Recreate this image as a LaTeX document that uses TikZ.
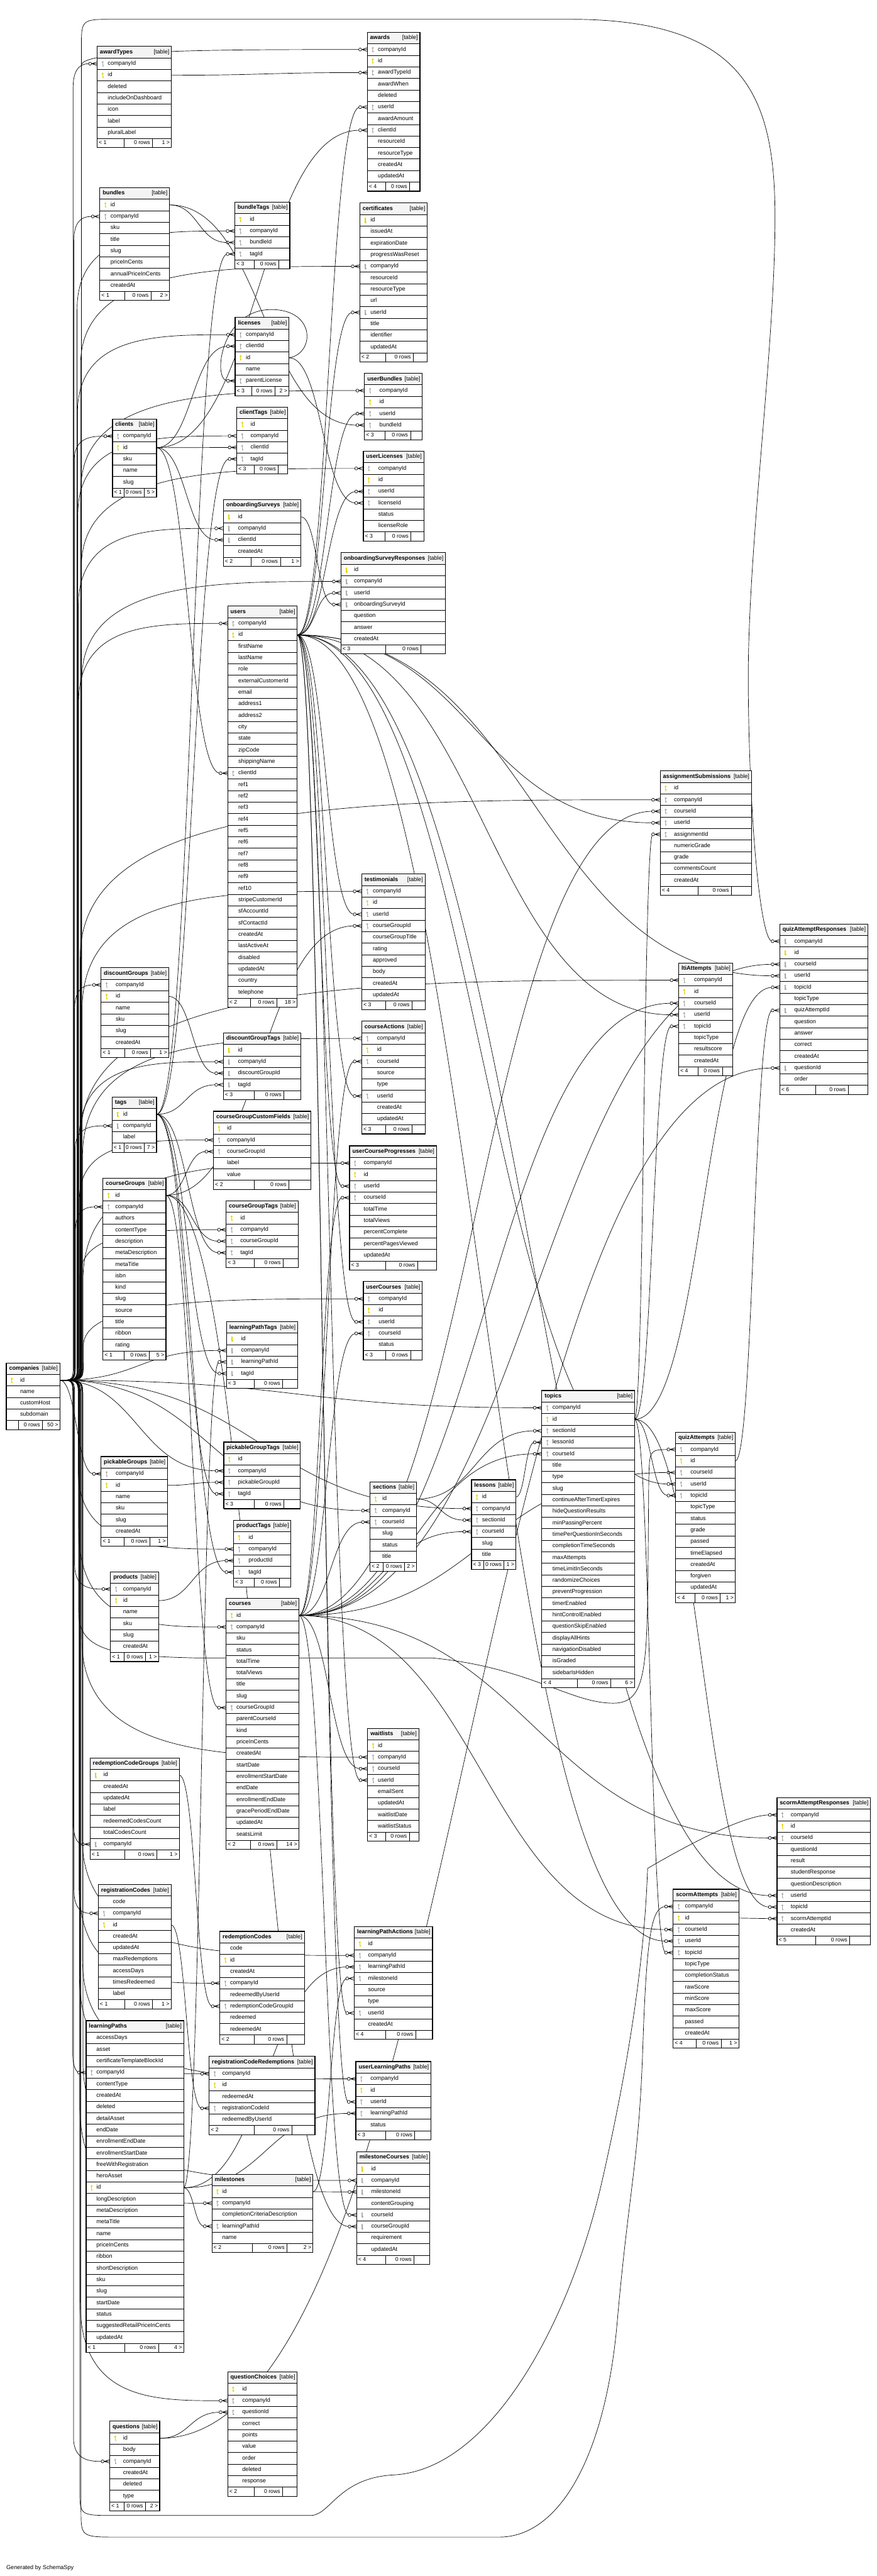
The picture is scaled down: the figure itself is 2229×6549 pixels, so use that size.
\documentclass[tikz,border=0pt]{standalone}
\usepackage{fontspec}
\setmainfont{Liberation Sans}
\usetikzlibrary{calc}
\pgfdeclarelayer{bg}
\pgfsetlayers{bg,main}
\definecolor{pkc}{RGB}{230,212,0}
\definecolor{fkc}{RGB}{172,172,172}
\definecolor{hdc}{RGB}{244,244,244}
\tikzset{
  cell/.style={draw=black,line width=1.2pt,fill=white},
  hdr/.style={draw=black,line width=1.2pt,fill=hdc},
  outer/.style={draw=black,line width=1.7pt},
  txt/.style={anchor=west,inner sep=0pt,font=\fontsize{14.6}{17}\selectfont,text height=10.5pt,text depth=3pt},
  ttl/.style={txt,font=\bfseries\fontsize{14.6}{17}\selectfont},
  ftx/.style={inner sep=0pt,font=\fontsize{14}{16}\selectfont,text height=10pt,text depth=2.5pt},
  rel/.style={draw=black,line width=1.1pt},
}
\newcommand\keyicon[3]{%
  \fill[#3] (#1,#2+4) circle (2.7);
  \fill[#3] (#1-0.9,#2+2) rectangle (#1+0.9,#2-7);
  \fill[#3] (#1+0.9,#2-3.4) rectangle (#1+2.7,#2-4.8);
  \fill[#3] (#1+0.9,#2-5.6) rectangle (#1+2.2,#2-7);}
\newcommand\tbl[6]{%
  \def\TBn{#1}\def\TBx{#2}\def\TBy{#3}\def\TBw{#4}%
  \draw[hdr] (#2,-#3) rectangle ++(#4,-29.3);
  \node[ttl] (#1-hd) at (#2+7,-#3-14.65) {#1};
  \node[txt,anchor=east] (#1-tg) at (#2+#4-5,-#3-14.65) {[table]};
  \foreach \kk/\rn [count=\ii] in {#6} {%
    \pgfmathsetmacro\yy{#3+29.3*\ii}%
    \draw[cell] (#2,-\yy) rectangle ++(#4,-29.3);
    \node[txt] (#1-\rn-t) at (#2+#5,-\yy-14.65) {\rn};
    \coordinate (#1-\rn-w) at (#2,-\yy-14.65);
    \coordinate (#1-\rn-e) at (#2+#4,-\yy-14.65);
    \if\kk p\keyicon{#2+14}{-\yy-14.65}{pkc}\fi
    \if\kk f\keyicon{#2+14}{-\yy-14.65}{fkc}\fi
    \xdef\TBrows{\ii}%
  }}
\newcommand\tfoot[4]{%
  \pgfmathsetmacro\yy{\TBy+29.3*(\TBrows+1)}%
  \draw[cell] (\TBx,-\yy) rectangle ++(\TBw,-23);
  \draw[line width=1.2pt] (#1,-\yy) -- ++(0,-23) (#2,-\yy) -- ++(0,-23);
  \node[ftx,anchor=west] (\TBn-fl) at (\TBx+4,-\yy-11.5) {#3};
  \node[ftx,anchor=east] (\TBn-fm) at (#2-6,-\yy-11.5) {0 rows};
  \node[ftx,anchor=east] (\TBn-fr) at (\TBx+\TBw-4,-\yy-11.5) {#4};
  \draw[outer] (\TBx,-\TBy) rectangle (\TBx+\TBw,-\yy-23);}
\newcommand\fkm[1]{%
  \draw[rel] ([xshift=-14pt]#1) -- ([yshift=4.5pt]#1)
             ([xshift=-14pt]#1) -- (#1)
             ([xshift=-14pt]#1) -- ([yshift=-4.5pt]#1);
  \draw[rel,fill=white] ([xshift=-18pt]#1) circle (3.8);}
\newcommand\rl[2]{%
  \draw[rel] let \p1=(#1), \p2=(#2) in
    (\p1) .. controls ({(\x1+\x2-19)/2},\y1) and ({(\x1+\x2-19)/2},\y2) .. (\x2-19,\y2);
  \fkm{#2}}
\newcommand\cbus[3]{%
  \draw[rel] let \p1=(companies-id-e), \p2=(#1-companyId-w), \n1={sign(\y2-\y1)} in
    (\p1) .. controls (#2,\y1) .. (#2,{\y1+(\n1)*45}) -- (#2,{\y2-(\n1)*#3})
    .. controls (#2,\y2) and ({(#2+\x2)/2},\y2) .. (\x2-19,\y2);
  \fkm{#1-companyId-w}}
\begin{document}
\begin{tikzpicture}[x=1pt,y=1pt]
\useasboundingbox (0,0) rectangle (2229,-6549);
\begin{pgfonlayer}{bg}
\fill[white] (0,0) rectangle (2229,-6549);
\end{pgfonlayer}

\tbl{awardTypes}{247}{118}{189}{27}{f/companyId,p/id,n/deleted,n/includeOnDashboard,n/icon,n/label,n/pluralLabel}
\tfoot{315}{388}{< 1}{1 >}
\tbl{awards}{934}{82}{134}{27}{f/companyId,p/id,f/awardTypeId,n/awardWhen,n/deleted,f/userId,n/awardAmount,f/clientId,n/resourceId,n/resourceType,n/createdAt,n/updatedAt}
\tfoot{980}{1042}{< 4}{}
\tbl{bundles}{254}{477}{177}{27}{p/id,f/companyId,n/sku,n/title,n/slug,n/priceInCents,n/annualPriceInCents,n/createdAt}
\tfoot{317}{384}{< 1}{2 >}
\tbl{bundleTags}{597}{514}{140}{38}{p/id,f/companyId,f/bundleId,f/tagId}
\tfoot{647}{709}{< 3}{}
\tbl{certificates}{915}{516}{172}{27}{p/id,n/issuedAt,n/expirationDate,n/progressWasReset,f/companyId,n/resourceId,n/resourceType,n/url,f/userId,n/title,n/identifier,n/updatedAt}
\tfoot{981}{1051}{< 2}{}
\tbl{licenses}{598}{807}{137}{27}{f/companyId,f/clientId,p/id,n/name,f/parentLicense}
\tfoot{640}{699}{< 3}{2 >}
\tbl{userBundles}{927}{949}{147}{38}{f/companyId,p/id,f/userId,f/bundleId}
\tfoot{979}{1044}{< 3}{}
\tbl{clientTags}{602}{1035}{130}{35}{p/id,f/companyId,f/clientId,f/tagId}
\tfoot{647}{708}{< 3}{}
\tbl{clients}{286}{1065}{112}{27}{f/companyId,p/id,n/sku,n/name,n/slug}
\tfoot{315}{367}{< 1}{5 >}
\tbl{userLicenses}{924}{1147}{154}{38}{f/companyId,p/id,f/userId,f/licenseId,n/status,n/licenseRole}
\tfoot{979}{1045}{< 3}{}
\tbl{onboardingSurveys}{568}{1270}{197}{37}{p/id,f/companyId,f/clientId,n/createdAt}
\tfoot{639}{713}{< 2}{1 >}
\tbl{onboardingSurveyResponses}{867}{1405}{266}{33}{p/id,f/companyId,f/userId,f/onboardingSurveyId,n/question,n/answer,n/createdAt}
\tfoot{980}{1071}{< 3}{}
\tbl{users}{579}{1541}{177}{27}{f/companyId,p/id,n/firstName,n/lastName,n/role,n/externalCustomerId,n/email,n/address1,n/address2,n/city,n/state,n/zipCode,n/shippingName,f/clientId,n/ref1,n/ref2,n/ref3,n/ref4,n/ref5,n/ref6,n/ref7,n/ref8,n/ref9,n/ref10,n/stripeCustomerId,n/sfAccountId,n/sfContactId,n/createdAt,n/lastActiveAt,n/disabled,n/updatedAt,n/country,n/telephone}
\tfoot{637}{704}{< 2}{18 >}
\tbl{testimonials}{920}{2222}{161}{28}{f/companyId,p/id,f/userId,f/courseGroupId,n/courseGroupTitle,n/rating,n/approved,n/body,n/createdAt,n/updatedAt}
\tfoot{980}{1048}{< 3}{}
\tbl{discountGroups}{257}{2460}{172}{37}{f/companyId,p/id,n/name,n/sku,n/slug,n/createdAt}
\tfoot{317}{383}{< 1}{1 >}
\tbl{courseActions}{920}{2596}{161}{39}{f/companyId,p/id,f/courseId,n/source,n/type,f/userId,n/createdAt,n/updatedAt}
\tfoot{980}{1048}{< 3}{}
\tbl{discountGroupTags}{568}{2626}{197}{37}{p/id,f/companyId,f/discountGroupId,f/tagId}
\tfoot{647}{722}{< 3}{}
\tbl{tags}{285}{2789}{113}{28}{p/id,f/companyId,n/label}
\tfoot{315}{367}{< 1}{7 >}
\tbl{courseGroupCustomFields}{543}{2825}{248}{34}{p/id,f/companyId,f/courseGroupId,n/label,n/value}
\tfoot{647}{735}{< 2}{}
\tbl{userCourseProgresses}{889}{2913}{221}{36}{f/companyId,p/id,f/userId,f/courseId,n/totalTime,n/totalViews,n/percentComplete,n/percentPagesViewed,n/updatedAt}
\tfoot{980}{1062}{< 3}{}
\tbl{courseGroups}{262}{2995}{160}{31}{p/id,f/companyId,n/authors,n/contentType,n/description,n/metaDescription,n/metaTitle,n/isbn,n/kind,n/slug,n/source,n/title,n/ribbon,n/rating}
\tfoot{315}{379}{< 1}{5 >}
\tbl{courseGroupTags}{575}{3053}{183}{36}{p/id,f/companyId,f/courseGroupId,f/tagId}
\tfoot{647}{720}{< 3}{}
\tbl{userCourses}{924}{3258}{150}{39}{f/companyId,p/id,f/userId,f/courseId,n/status}
\tfoot{980}{1044}{< 3}{}
\tbl{learningPathTags}{576}{3360}{181}{37}{p/id,f/companyId,f/learningPathId,f/tagId}
\tfoot{647}{719}{< 3}{}
\tbl{companies}{16}{3465}{136}{35}{p/id,n/name,n/customHost,n/subdomain}
\tfoot{47}{108}{}{50 >}
\tbl{pickableGroupTags}{569}{3666}{195}{36}{p/id,f/companyId,f/pickableGroupId,f/tagId}
\tfoot{647}{722}{< 3}{}
\tbl{pickableGroups}{257}{3703}{169}{37}{f/companyId,p/id,n/name,n/sku,n/slug,n/createdAt}
\tfoot{315}{381}{< 1}{1 >}
\tbl{sections}{941}{3767}{118}{31}{p/id,f/companyId,f/courseId,n/slug,n/status,n/title}
\tfoot{975}{1029}{< 2}{2 >}
\tbl{productTags}{594}{3865}{146}{38}{p/id,f/companyId,f/productId,f/tagId}
\tfoot{647}{711}{< 3}{}
\tbl{products}{281}{3996}{122}{32}{f/companyId,p/id,n/name,n/sku,n/slug,n/createdAt}
\tfoot{315}{370}{< 1}{1 >}
\tbl{courses}{575}{4063}{185}{26}{p/id,f/companyId,n/sku,n/status,n/totalTime,n/totalViews,n/title,n/slug,f/courseGroupId,n/parentCourseId,n/kind,n/priceInCents,n/createdAt,n/startDate,n/enrollmentStartDate,n/endDate,n/enrollmentEndDate,n/gracePeriodEndDate,n/updatedAt,n/seatsLimit}
\tfoot{637}{704}{< 2}{14 >}
\tbl{waitlists}{935}{4394}{130}{26}{p/id,f/companyId,f/courseId,f/userId,n/emailSent,n/updatedAt,n/waitlistDate,n/waitlistStatus}
\tfoot{980}{1041}{< 3}{}
\tbl{redemptionCodeGroups}{229}{4469}{227}{34}{p/id,n/createdAt,n/updatedAt,n/label,n/redeemedCodesCount,n/totalCodesCount,f/companyId}
\tfoot{317}{399}{< 1}{1 >}
\tbl{registrationCodes}{250}{4791}{185}{37}{n/code,f/companyId,p/id,n/createdAt,n/updatedAt,n/maxRedemptions,n/accessDays,n/timesRedeemed,n/label}
\tfoot{317}{388}{< 1}{1 >}
\tbl{redemptionCodes}{559}{4910}{215}{26}{n/code,p/id,n/createdAt,f/companyId,n/redeemedByUserId,f/redemptionCodeGroupId,n/redeemed,n/redeemedAt}
\tfoot{647}{729}{< 2}{}
\tbl{learningPathActions}{901}{4898}{199}{35}{p/id,f/companyId,f/learningPathId,f/milestoneId,n/source,n/type,f/userId,n/createdAt}
\tfoot{980}{1057}{< 4}{}
\tbl{learningPaths}{219}{5137}{248}{26}{n/accessDays,n/asset,n/certificateTemplateBlockId,f/companyId,n/contentType,n/createdAt,n/deleted,n/detailAsset,n/endDate,n/enrollmentEndDate,n/enrollmentStartDate,n/freeWithRegistration,n/heroAsset,p/id,n/longDescription,n/metaDescription,n/metaTitle,n/name,n/priceInCents,n/ribbon,n/shortDescription,n/sku,n/slug,n/startDate,n/status,n/suggestedRetailPriceInCents,n/updatedAt}
\tfoot{317}{403}{< 1}{4 >}
\tbl{registrationCodeRedemptions}{532}{5228}{269}{33}{f/companyId,p/id,n/redeemedAt,f/registrationCodeId,n/redeemedByUserId}
\tfoot{647}{742}{< 2}{}
\tbl{userLearningPaths}{905}{5241}{191}{37}{f/companyId,p/id,f/userId,f/learningPathId,n/status}
\tfoot{980}{1055}{< 3}{}
\tbl{milestoneCourses}{907}{5470}{186}{37}{p/id,f/companyId,f/milestoneId,n/contentGrouping,f/courseId,f/courseGroupId,n/requirement,n/updatedAt}
\tfoot{980}{1053}{< 4}{}
\tbl{milestones}{539}{5528}{257}{26}{p/id,f/companyId,n/completionCriteriaDescription,f/learningPathId,n/name}
\tfoot{641}{730}{< 2}{2 >}
\tbl{questionChoices}{579}{6030}{177}{37}{p/id,f/companyId,f/questionId,n/correct,n/points,n/value,n/order,n/deleted,n/response}
\tfoot{647}{719}{< 2}{}
\tbl{questions}{279}{6155}{127}{34}{p/id,n/body,f/companyId,n/createdAt,n/deleted,n/type}
\tfoot{315}{370}{< 1}{2 >}
\tbl{assignmentSubmissions}{1679}{1960}{232}{35}{p/id,f/companyId,f/courseId,f/userId,f/assignmentId,n/numericGrade,n/grade,n/commentsCount,n/createdAt}
\tfoot{1775}{1860}{< 4}{}
\tbl{ltiAttempts}{1726}{2448}{137}{39}{f/companyId,p/id,f/courseId,f/userId,f/topicId,n/topicType,n/resultscore,n/createdAt}
\tfoot{1775}{1837}{< 4}{}
\tbl{quizAttemptResponses}{1983}{2349}{224}{37}{f/companyId,p/id,f/courseId,f/userId,f/topicId,n/topicType,f/quizAttemptId,n/question,n/answer,n/correct,n/createdAt,f/questionId,n/order}
\tfoot{2075}{2157}{< 6}{}
\tbl{topics}{1378}{3535}{236}{27}{f/companyId,p/id,f/sectionId,f/lessonId,f/courseId,n/title,n/type,n/slug,n/continueAfterTimerExpires,n/hideQuestionResults,n/minPassingPercent,n/timePerQuestionInSeconds,n/completionTimeSeconds,n/maxAttempts,n/timeLimitInSeconds,n/randomizeChoices,n/preventProgression,n/timerEnabled,n/hintControlEnabled,n/questionSkipEnabled,n/displayAllHints,n/navigationDisabled,n/isGraded,n/sidebarIsHidden}
\tfoot{1469}{1553}{< 4}{6 >}
\tbl{lessons}{1199}{3762}{113}{27}{p/id,f/companyId,f/sectionId,f/courseId,n/slug,n/title}
\tfoot{1230}{1282}{< 3}{1 >}
\tbl{quizAttempts}{1718}{3641}{152}{38}{f/companyId,p/id,f/courseId,f/userId,f/topicId,n/topicType,n/status,n/grade,n/passed,n/timeElapsed,n/createdAt,n/forgiven,n/updatedAt}
\tfoot{1768}{1832}{< 4}{1 >}
\tbl{scormAttemptResponses}{1976}{4570}{238}{35}{f/companyId,p/id,f/courseId,n/questionId,n/result,n/studentResponse,n/questionDescription,f/userId,f/topicId,f/scormAttemptId,n/createdAt}
\tfoot{2075}{2161}{< 5}{}
\tbl{scormAttempts}{1712}{4803}{167}{30}{f/companyId,p/id,f/courseId,f/userId,f/topicId,n/topicType,n/completionStatus,n/rawScore,n/minScore,n/maxScore,n/passed,n/createdAt}
\tfoot{1770}{1834}{< 4}{1 >}

\node[txt] (gen) at (16,-6529) {Generated by SchemaSpy};

\begin{pgfonlayer}{bg}
% companies.id -> companyId
\cbus{awardTypes}{186}{60}
\cbus{awards}{207}{40}
\cbus{bundles}{188}{60}
\cbus{bundleTags}{196}{200}
\cbus{certificates}{205}{250}
\cbus{licenses}{197}{200}
\cbus{userBundles}{206}{250}
\cbus{clients}{189}{60}
\cbus{clientTags}{198}{200}
\cbus{userLicenses}{207}{250}
\cbus{onboardingSurveys}{199}{200}
\cbus{onboardingSurveyResponses}{208}{250}
\cbus{users}{200}{200}
\cbus{testimonials}{209}{300}
\cbus{discountGroups}{190}{60}
\cbus{courseActions}{210}{300}
\cbus{discountGroupTags}{201}{200}
\cbus{tags}{191}{60}
\cbus{courseGroupCustomFields}{202}{150}
\cbus{userCourseProgresses}{211}{300}
\cbus{courseGroups}{192}{60}
\cbus{courseGroupTags}{203}{120}
\cbus{userCourses}{212}{120}
\cbus{assignmentSubmissions}{204}{400}
\cbus{ltiAttempts}{205}{400}
\rl{companies-id-e}{learningPathTags-companyId-w}
\rl{companies-id-e}{pickableGroups-companyId-w}
\rl{companies-id-e}{pickableGroupTags-companyId-w}
\rl{companies-id-e}{topics-companyId-w}
\rl{companies-id-e}{lessons-companyId-w}
\rl{companies-id-e}{sections-companyId-w}
\cbus{products}{190}{60}
\cbus{productTags}{199}{200}
\cbus{courses}{200}{250}
\cbus{waitlists}{208}{300}
\cbus{redemptionCodeGroups}{186}{60}
\cbus{registrationCodes}{188}{60}
\cbus{redemptionCodes}{201}{250}
\cbus{learningPathActions}{209}{300}
\cbus{learningPaths}{185}{50}
\cbus{registrationCodeRedemptions}{202}{250}
\cbus{userLearningPaths}{210}{300}
\cbus{milestones}{203}{250}
\cbus{milestoneCourses}{211}{300}
\cbus{questionChoices}{204}{250}
\cbus{questions}{187}{60}
% long routes
\draw[rel] (companies-id-e) .. controls (207,-3509) .. (207,-3460) -- (207,-120)
  .. controls (207,-49) .. (290,-49) -- (1450,-49)
  .. controls (1900,-49) and (1972,-250) .. (1971,-560)
  .. controls (1970,-900) and (1900,-1400) .. (1903,-1750)
  .. controls (1906,-2100) and (1935,-2394) .. ([xshift=-19pt]quizAttemptResponses-companyId-w);
\fkm{quizAttemptResponses-companyId-w}
\draw[rel] (companies-id-e) .. controls (206,-3509) .. (206,-3560) -- (206,-6380)
  .. controls (206,-6450) .. (300,-6450) -- (1270,-6450)
  .. controls (1420,-6450) and (1540,-6250) .. (1570,-5900)
  .. controls (1600,-5560) and (1625,-5500) .. (1635,-5200)
  .. controls (1645,-4900) and (1660,-4848) .. ([xshift=-19pt]scormAttempts-companyId-w);
\fkm{scormAttempts-companyId-w}
\draw[rel] (companies-id-e) .. controls (203,-3509) .. (203,-3560) -- (203,-6330)
  .. controls (203,-6395) .. (290,-6395) -- (790,-6395)
  .. controls (840,-6395) and (860,-6300) .. (1000,-6292)
  .. controls (1250,-6280) and (1450,-5900) .. (1530,-5550)
  .. controls (1610,-5200) and (1640,-4950) .. (1647,-4750)
  .. controls (1750,-4690) and (1890,-4615) .. ([xshift=-19pt]scormAttemptResponses-companyId-w);
\fkm{scormAttemptResponses-companyId-w}
\draw[rel] (companies-id-e) .. controls (200,-3509) .. (200,-3560) -- (200,-4100)
  .. controls (200,-4200) and (300,-4210) .. (500,-4215) -- (1100,-4215)
  .. controls (1350,-4240) and (1450,-4330) .. (1560,-4330)
  .. controls (1640,-4330) and (1645,-4250) .. (1648,-4000) -- (1650,-3760)
  .. controls (1652,-3686) .. ([xshift=-19pt]quizAttempts-companyId-w);
\fkm{quizAttempts-companyId-w}
% self reference
\draw[rel] (licenses-id-e) .. controls (800,-900) and (805,-787) .. (690,-787)
  .. controls (560,-787) and (540,-968) .. ([xshift=-19pt]licenses-parentLicense-w);
\fkm{licenses-parentLicense-w}
% other relations
\rl{awardTypes-id-e}{awards-awardTypeId-w}
\rl{users-id-e}{awards-userId-w}
\rl{clients-id-e}{awards-clientId-w}
\rl{bundles-id-e}{bundleTags-bundleId-w}
\rl{tags-id-e}{bundleTags-tagId-w}
\rl{users-id-e}{certificates-userId-w}
\rl{clients-id-e}{licenses-clientId-w}
\rl{users-id-e}{userBundles-userId-w}
\rl{bundles-id-e}{userBundles-bundleId-w}
\rl{clients-id-e}{clientTags-clientId-w}
\rl{tags-id-e}{clientTags-tagId-w}
\rl{users-id-e}{userLicenses-userId-w}
\rl{licenses-id-e}{userLicenses-licenseId-w}
\rl{clients-id-e}{onboardingSurveys-clientId-w}
\rl{users-id-e}{onboardingSurveyResponses-userId-w}
\rl{onboardingSurveys-id-e}{onboardingSurveyResponses-onboardingSurveyId-w}
\rl{clients-id-e}{users-clientId-w}
\rl{users-id-e}{testimonials-userId-w}
\rl{courseGroups-id-e}{testimonials-courseGroupId-w}
\rl{courses-id-e}{courseActions-courseId-w}
\rl{users-id-e}{courseActions-userId-w}
\rl{discountGroups-id-e}{discountGroupTags-discountGroupId-w}
\rl{tags-id-e}{discountGroupTags-tagId-w}
\rl{courseGroups-id-e}{courseGroupCustomFields-courseGroupId-w}
\rl{users-id-e}{userCourseProgresses-userId-w}
\rl{courses-id-e}{userCourseProgresses-courseId-w}
\rl{courseGroups-id-e}{courseGroupTags-courseGroupId-w}
\rl{tags-id-e}{courseGroupTags-tagId-w}
\rl{users-id-e}{userCourses-userId-w}
\rl{courses-id-e}{userCourses-courseId-w}
\rl{learningPaths-id-e}{learningPathTags-learningPathId-w}
\rl{tags-id-e}{learningPathTags-tagId-w}
\rl{pickableGroups-id-e}{pickableGroupTags-pickableGroupId-w}
\rl{tags-id-e}{pickableGroupTags-tagId-w}
\rl{courses-id-e}{sections-courseId-w}
\rl{products-id-e}{productTags-productId-w}
\rl{tags-id-e}{productTags-tagId-w}
\rl{courseGroups-id-e}{courses-courseGroupId-w}
\rl{courses-id-e}{waitlists-courseId-w}
\rl{users-id-e}{waitlists-userId-w}
\rl{redemptionCodeGroups-id-e}{redemptionCodes-redemptionCodeGroupId-w}
\rl{learningPaths-id-e}{learningPathActions-learningPathId-w}
\rl{milestones-id-e}{learningPathActions-milestoneId-w}
\rl{users-id-e}{learningPathActions-userId-w}
\rl{registrationCodes-id-e}{registrationCodeRedemptions-registrationCodeId-w}
\rl{users-id-e}{userLearningPaths-userId-w}
\rl{learningPaths-id-e}{userLearningPaths-learningPathId-w}
\rl{milestones-id-e}{milestoneCourses-milestoneId-w}
\rl{courses-id-e}{milestoneCourses-courseId-w}
\rl{courseGroups-id-e}{milestoneCourses-courseGroupId-w}
\rl{learningPaths-id-e}{milestones-learningPathId-w}
\rl{questions-id-e}{questionChoices-questionId-w}
\rl{courses-id-e}{assignmentSubmissions-courseId-w}
\rl{users-id-e}{assignmentSubmissions-userId-w}
\rl{topics-id-e}{assignmentSubmissions-assignmentId-w}
\rl{courses-id-e}{ltiAttempts-courseId-w}
\rl{users-id-e}{ltiAttempts-userId-w}
\rl{topics-id-e}{ltiAttempts-topicId-w}
\rl{courses-id-e}{quizAttemptResponses-courseId-w}
\rl{users-id-e}{quizAttemptResponses-userId-w}
\rl{topics-id-e}{quizAttemptResponses-topicId-w}
\rl{quizAttempts-id-e}{quizAttemptResponses-quizAttemptId-w}
\rl{questions-id-e}{quizAttemptResponses-questionId-w}
\rl{sections-id-e}{topics-sectionId-w}
\rl{lessons-id-e}{topics-lessonId-w}
\rl{courses-id-e}{topics-courseId-w}
\rl{sections-id-e}{lessons-sectionId-w}
\rl{courses-id-e}{lessons-courseId-w}
\rl{courses-id-e}{quizAttempts-courseId-w}
\rl{users-id-e}{quizAttempts-userId-w}
\rl{topics-id-e}{quizAttempts-topicId-w}
\rl{courses-id-e}{scormAttemptResponses-courseId-w}
\rl{users-id-e}{scormAttemptResponses-userId-w}
\rl{topics-id-e}{scormAttemptResponses-topicId-w}
\rl{scormAttempts-id-e}{scormAttemptResponses-scormAttemptId-w}
\rl{courses-id-e}{scormAttempts-courseId-w}
\rl{users-id-e}{scormAttempts-userId-w}
\rl{topics-id-e}{scormAttempts-topicId-w}
\end{pgfonlayer}
\end{tikzpicture}
\end{document}
